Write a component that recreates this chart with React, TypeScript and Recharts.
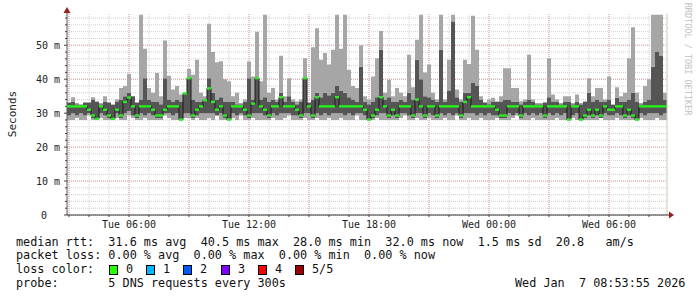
import React from "react";
import {
  ComposedChart,
  Area,
  Line,
  Scatter,
  XAxis,
  YAxis,
  CartesianGrid,
  ReferenceDot,
  ReferenceLine,
} from "recharts";

// time axis: hours since Tue 00:00, one bucket every 12 minutes
const START_HOUR = 2.9;
const STEP_HOURS = 0.2;
const END_HOUR = 32.9;

// rtt in ms, 150 buckets
const pingMax = [
  33, 34.7, 33, 32.5, 33, 33, 34.7, 33.5, 33, 35,
  33, 32.5, 34, 37.4, 38, 41.6, 35, 33, 59, 49,
  37.4, 36, 41.8, 35, 51.4, 41, 37, 38, 35.5, 34,
  43, 41.3, 45.7, 36, 35, 56.3, 48, 45, 45.3, 40,
  39.4, 35, 36, 33, 34, 45.2, 40.8, 54, 39.4, 59,
  36, 37.4, 34, 46.9, 35, 40.3, 34, 33.5, 34, 46.2,
  33, 49.4, 55, 45.7, 47.7, 44.3, 48.7, 59, 49, 59,
  42.8, 38, 37.4, 50, 35, 34, 40.8, 46.2, 54.2, 36,
  39.8, 35, 37.4, 36, 35, 47.2, 37.6, 51.6, 59, 42,
  44.3, 36, 34, 59, 34, 45.7, 59, 37, 34, 45.7,
  44.5, 58.7, 48.7, 35, 33, 34, 34.5, 33.5, 35, 43.2,
  43.2, 37.4, 37.4, 33.5, 34, 47.2, 34, 33, 33, 33,
  46.2, 35.5, 34, 33, 35, 35, 33, 35.5, 33, 33.5,
  40.3, 35, 37.4, 37.4, 34, 40.8, 32.5, 37.6, 35, 36,
  46.2, 55.3, 36, 33, 38, 40, 59, 59, 59, 36,
];

const pingHigh = [
  33.3, 33.3, 32.6, 32.6, 33.3, 33.3, 34, 33.3, 32.6, 33.3,
  33.3, 32.6, 33.3, 34, 35, 36, 35, 33.3, 34, 40.3,
  34, 33.3, 33.3, 32.6, 40.3, 34, 33.3, 34, 33.3, 36,
  40.8, 34, 33.3, 33.3, 34, 40.3, 36, 34, 34.7, 33.3,
  33.3, 33.3, 32.6, 32.6, 33.3, 40.3, 34, 40.8, 34, 34.7,
  33.3, 34, 33.3, 36, 33.3, 35, 33.3, 32.6, 33.3, 40.3,
  33.3, 34, 36, 34.7, 36, 35.3, 36, 38, 36.7, 36,
  34.7, 34, 33.3, 43.7, 33.3, 32.6, 33.3, 34.7, 48.7, 34,
  34.7, 33.3, 33.3, 34, 33.3, 36, 34, 45.7, 40, 35,
  34.7, 34, 33.3, 48.7, 33.3, 36.7, 57, 34.7, 33.3, 36,
  36, 39, 38, 34, 33.3, 32.6, 33.3, 33.3, 33.3, 34,
  34, 33.3, 33.3, 32.6, 33.3, 34, 33.3, 32.6, 32.6, 33.3,
  34.7, 33.3, 33.3, 32.6, 33.3, 33.3, 32.6, 33.3, 32.6, 33.3,
  36, 33.3, 34, 33.3, 33.3, 34, 32.6, 34.5, 33.3, 33.3,
  34, 36, 33.3, 32.6, 33.3, 34, 43.7, 48, 47, 34,
];

const pingMedian = [
  32, 32, 32, 32, 32, 31, 29.3, 28.3, 32, 31,
  29.3, 28.3, 31, 29.3, 33.3, 34.6, 32, 29.3, 32, 32,
  32, 31, 29.3, 29.3, 31, 32, 32, 32, 28.1, 35.8,
  40.3, 29.3, 31, 32, 33.8, 37.3, 33.3, 31, 32, 29.3,
  28.1, 32, 32, 32, 31, 29.3, 32.8, 40.3, 32, 31,
  29.3, 32, 32, 34.7, 32, 32, 32, 31, 29.3, 40.3,
  32, 29.3, 34.7, 32, 32, 32, 32, 34.7, 32, 32,
  32, 32, 32, 32, 31, 28.1, 29.3, 31, 34.7, 32,
  29.3, 31, 29.3, 32, 32, 32, 29.3, 34, 32, 29.3,
  32, 32, 29.3, 32, 32, 32, 32, 32, 29.3, 33.3,
  34.7, 32, 32, 32, 32, 32, 32, 31, 29.3, 29.3,
  32, 32, 32, 29.3, 32, 32, 32, 32, 32, 29.3,
  32, 32, 32, 32, 32, 28.1, 32, 32, 28.1, 29.3,
  31, 29.3, 31, 29.3, 32, 31, 31, 32, 32, 29.3,
  31, 29.3, 28.1, 32, 32, 32, 32, 32, 32, 32,
];

const pingLow = [
  29.3, 30, 29.3, 30, 29.3, 30, 28.6, 28, 30, 29.3,
  28.6, 28, 30, 28.6, 30, 30.6, 29.3, 28.6, 30, 29.3,
  30, 29.3, 28.6, 28.6, 30, 30, 29.3, 30, 28, 30,
  30, 28.6, 29.3, 30, 30, 30, 30, 29.3, 30, 28.6,
  28, 30, 29.3, 30, 29.3, 28.6, 30, 30, 30, 29.3,
  28.6, 30, 29.3, 30, 30, 30, 29.3, 29.3, 28.6, 30,
  30, 28.6, 30, 29.3, 30, 29.3, 30, 30, 30, 29.3,
  30, 29.3, 30, 30, 29.3, 28, 28.6, 29.3, 30, 30,
  28.6, 29.3, 28.6, 30, 30, 29.3, 28.6, 30, 30, 28.6,
  30, 29.3, 28.6, 30, 29.3, 30, 29.3, 30, 28.6, 30,
  30, 30, 29.3, 30, 29.3, 30, 29.3, 29.3, 28.6, 28.6,
  30, 29.3, 30, 28.6, 30, 29.3, 30, 29.3, 30, 28.6,
  30, 29.3, 30, 29.3, 30, 28, 29.3, 30, 28, 28.6,
  29.3, 28.6, 29.3, 28.6, 30, 29.3, 29.3, 30, 29.3, 28.6,
  29.3, 28.6, 28, 30, 29.3, 30, 30, 30, 29.3, 30,
];

const pingMin = [
  28, 28, 28.6, 28, 28, 29.3, 28, 28, 28.6, 28,
  28, 28, 28.6, 28, 28, 29.3, 28.6, 28, 28, 28.6,
  28, 28, 28, 28, 29.3, 28.6, 28, 28, 28, 28.6,
  28.6, 28, 28.6, 28, 28, 28.6, 28, 29.3, 28, 28,
  28, 28.6, 28, 29.3, 28, 28, 28.6, 28, 28, 28,
  28, 28.6, 28, 28, 28.6, 29.3, 28, 28, 28, 28.6,
  28, 28, 28.6, 28, 28, 28.6, 28, 28, 28.6, 28,
  28, 28, 29.3, 28, 28, 28, 28, 28.6, 28, 28,
  28, 28, 28, 28.6, 29.3, 28, 28, 28.6, 28, 28,
  28.6, 28, 28, 28, 28.6, 28, 28, 29.3, 28, 28,
  28.6, 28, 28, 28.6, 28, 28, 28, 28.6, 28, 28,
  28, 28.6, 29.3, 28, 28, 28, 28.6, 28, 28, 28,
  28, 28, 28.6, 28, 28, 28, 28.6, 28, 28, 28,
  28, 28, 28, 28.6, 28, 28, 28, 28.6, 28, 28,
  28, 28, 28, 28.6, 28, 28, 28, 28.6, 28, 28,
];

const hourTicks = [3, 4, 5, 6, 7, 8, 9, 10, 11, 12, 13, 14, 15, 16, 17, 18, 19, 20, 21, 22, 23, 24, 25, 26, 27, 28, 29, 30, 31, 32];
const hourMajor = [3, 6, 9, 12, 15, 18, 21, 24, 27, 30];
const hourLabels: Record<number, string> = {
  6: "Tue 06:00",
  12: "Tue 12:00",
  18: "Tue 18:00",
  24: "Wed 00:00",
  30: "Wed 06:00",
};
const msTicks = [0, 2, 4, 6, 8, 10, 12, 14, 16, 18, 20, 22, 24, 26, 28, 30, 32, 34, 36, 38, 40, 42, 44, 46, 48, 50, 52, 54, 56, 58];
const msMajor = [10, 20, 30, 40, 50];

const lossColors = [
  { label: "0", color: "#26ff00", x: 109 },
  { label: "1", color: "#00b8ff", x: 146 },
  { label: "2", color: "#0059ff", x: 183 },
  { label: "3", color: "#7e00ff", x: 221 },
  { label: "4", color: "#ff0000", x: 258 },
  { label: "5/5", color: "#a10000", x: 295 },
];

const rows: any[] = pingMedian.map((med, i) => {
  const v = [pingMin[i], pingLow[i], med, pingHigh[i], pingMax[i]].sort((a, b) => a - b);
  return {
    t: START_HOUR + i * STEP_HOURS,
    base: v[0],
    outerLo: v[1] - v[0],
    inner: v[3] - v[1],
    outerHi: v[4] - v[3],
    med,
    medLine: med,
  };
});
// closing row so the last step reaches the right edge
rows.push({ ...rows[rows.length - 1], t: END_HOUR, med: null });

const MONO = "'DejaVu Sans Mono', monospace";
const LIGHT = "#a6a6a6";
const DARK = "#555555";

function TimeTick(props: any) {
  const { x, y, payload } = props;
  const label = hourLabels[payload.value];
  return (
    <g>
      <line x1={x} x2={x} y1={y} y2={y + 2} stroke="#444" />
      {label && (
        <text x={x} y={y + 12.5} textAnchor="middle" fontFamily={MONO} fontSize={10} fill="#222">
          {label}
        </text>
      )}
    </g>
  );
}

function MsTick(props: any) {
  const { x, y, payload } = props;
  const v = payload.value;
  const major = v % 10 === 0;
  return (
    <g>
      <line x1={x - (major ? 3 : 2)} x2={x} y1={y} y2={y} stroke="#444" />
      {major && (
        <text
          x={v === 0 ? x - 20 : x - 7}
          y={y + 3.5}
          textAnchor="end"
          fontFamily={MONO}
          fontSize={10}
          fill="#222"
        >
          {v === 0 ? "0" : `${v} m`}
        </text>
      )}
    </g>
  );
}

function MedianMark(props: any) {
  const { cx, cy } = props;
  if (cx == null || cy == null || isNaN(cy)) return null;
  return <rect x={cx} y={cy - 1.2} width={4} height={2.4} fill="#26ee1a" />;
}

function UpArrow(props: any) {
  const { cx, cy } = props;
  return (
    <g>
      <line x1={cx} x2={cx} y1={cy} y2={cy - 3} stroke="#555" />
      <path d={`M${cx - 3.5},${cy - 1} L${cx + 3.5},${cy - 1} L${cx},${cy - 7} Z`} fill="#9a1c1c" />
    </g>
  );
}

function RightArrow(props: any) {
  const { cx, cy } = props;
  return (
    <g>
      <line x1={cx} x2={cx + 3} y1={cy} y2={cy} stroke="#333" />
      <path d={`M${cx + 2},${cy - 3.5} L${cx + 2},${cy + 3.5} L${cx + 7},${cy} Z`} fill="#9a1c1c" />
    </g>
  );
}

const legendStyle: React.CSSProperties = {
  position: "absolute",
  left: 16,
  fontFamily: MONO,
  fontSize: 11.8,
  lineHeight: "14px",
  whiteSpace: "pre",
  color: "#111",
};

export default function App() {
  return (
    <div style={{ position: "absolute", left: 0, top: 0, width: 697, height: 297, background: "#fff" }}>
      <ComposedChart
        width={697}
        height={297}
        data={rows}
        margin={{ top: 14, right: 30, left: 0, bottom: 0 }}
      >
        <CartesianGrid
          horizontalValues={msTicks}
          verticalValues={hourTicks}
          stroke="#cfcfcf"
          strokeDasharray="1 1"
        />
        <CartesianGrid
          horizontalValues={msMajor}
          verticalValues={hourMajor}
          stroke="#e8a0a0"
          strokeDasharray="1 1"
        />
        <XAxis
          dataKey="t"
          type="number"
          domain={[START_HOUR, END_HOUR]}
          ticks={hourTicks}
          interval={0}
          tick={<TimeTick />}
          tickLine={false}
          tickSize={0}
          tickMargin={0}
          height={82}
          axisLine={{ stroke: "#333" }}
          allowDataOverflow
        />
        <YAxis
          type="number"
          domain={[0, 59.2]}
          ticks={msTicks}
          interval={0}
          tick={<MsTick />}
          tickLine={false}
          tickSize={0}
          tickMargin={0}
          width={67}
          axisLine={{ stroke: "#555" }}
          allowDataOverflow
        />
        <Area
          dataKey="base"
          stackId="smoke"
          type="stepAfter"
          fill="none"
          fillOpacity={0}
          stroke="none"
          isAnimationActive={false}
        />
        <Area
          dataKey="outerLo"
          stackId="smoke"
          type="stepAfter"
          fill={LIGHT}
          fillOpacity={1}
          stroke="none"
          isAnimationActive={false}
        />
        <Area
          dataKey="inner"
          stackId="smoke"
          type="stepAfter"
          fill={DARK}
          fillOpacity={1}
          stroke="none"
          isAnimationActive={false}
        />
        <Area
          dataKey="outerHi"
          stackId="smoke"
          type="stepAfter"
          fill={LIGHT}
          fillOpacity={1}
          stroke="none"
          isAnimationActive={false}
        />
        <Line
          dataKey="medLine"
          type="stepAfter"
          stroke="#1a1a1a"
          strokeWidth={1}
          dot={false}
          activeDot={false}
          isAnimationActive={false}
        />
        <Scatter dataKey="med" shape={<MedianMark />} isAnimationActive={false} />
        <ReferenceLine x={END_HOUR} stroke="#c9c9b2" ifOverflow="visible" />
        <ReferenceDot x={START_HOUR} y={59.2} r={0} ifOverflow="visible" shape={<UpArrow />} />
        <ReferenceDot x={END_HOUR} y={0} r={0} ifOverflow="visible" shape={<RightArrow />} />
      </ComposedChart>

      <div
        style={{
          position: "absolute",
          left: 12,
          top: 114,
          transform: "translate(-50%, -50%) rotate(-90deg)",
          fontFamily: MONO,
          fontSize: 11,
          color: "#222",
          whiteSpace: "pre",
        }}
      >
        Seconds
      </div>
      <div
        style={{
          position: "absolute",
          left: 688,
          top: 59,
          transform: "translate(-50%, -50%) rotate(90deg)",
          fontFamily: MONO,
          fontSize: 8.5,
          color: "#c2c2c2",
          whiteSpace: "pre",
        }}
      >
        RRDTOOL / TOBI OETIKER
      </div>

      <div style={{ ...legendStyle, top: 235 }}>
        {"median rtt:  31.6 ms avg  40.5 ms max  28.0 ms min  32.0 ms now  1.5 ms sd  20.8   am/s"}
      </div>
      <div style={{ ...legendStyle, top: 248 }}>
        {"packet loss: 0.00 % avg  0.00 % max  0.00 % min  0.00 % now"}
      </div>
      <div style={{ ...legendStyle, top: 262 }}>{"loss color:"}</div>
      {lossColors.map((c) => (
        <React.Fragment key={c.label}>
          <div
            style={{
              position: "absolute",
              left: c.x,
              top: 265,
              width: 7,
              height: 8,
              background: c.color,
              border: "1px solid #000",
            }}
          />
          <div style={{ ...legendStyle, left: c.x + 17, top: 262 }}>{c.label}</div>
        </React.Fragment>
      ))}
      <div style={{ ...legendStyle, top: 276 }}>{"probe:       5 DNS requests every 300s"}</div>
      <div style={{ ...legendStyle, left: 515, top: 276 }}>{"Wed Jan  7 08:53:55 2026"}</div>
    </div>
  );
}
